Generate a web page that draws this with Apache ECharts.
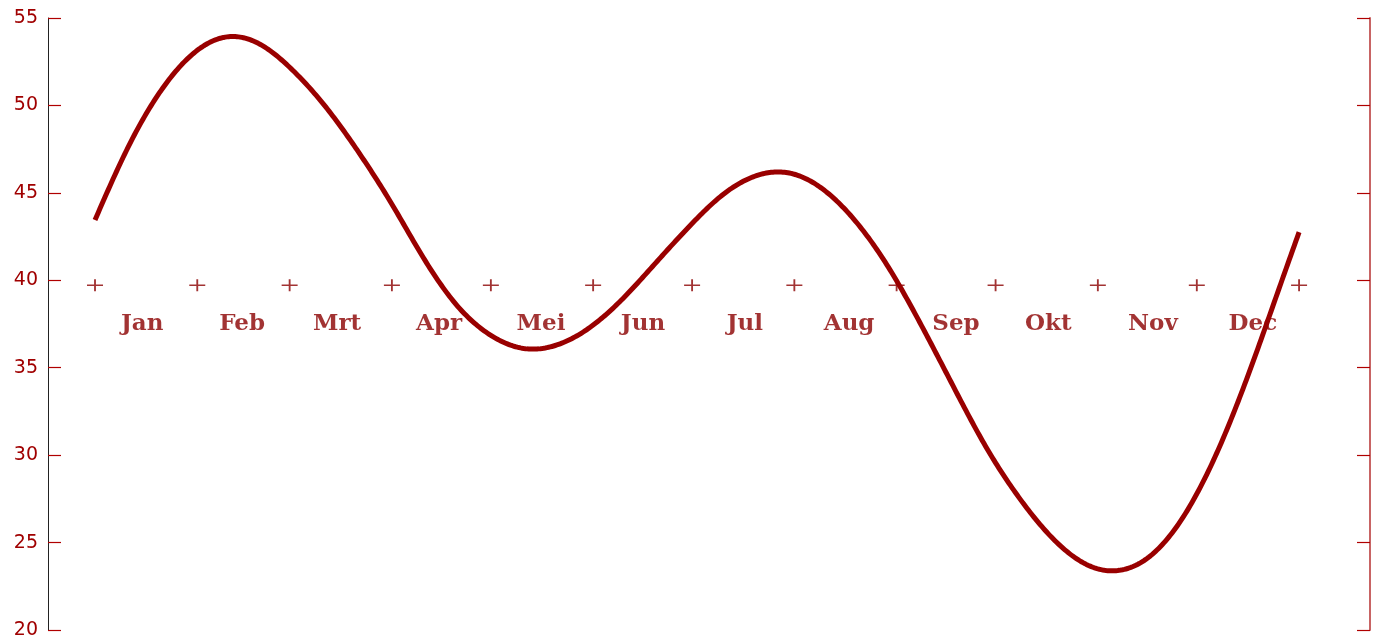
<!DOCTYPE html>
<html>
<head>
<meta charset="utf-8">
<script src="https://cdn.jsdelivr.net/npm/echarts@6/dist/echarts.min.js"></script>
<style>
html,body{margin:0;padding:0;background:#fff;}
#chart{width:1378px;height:640px;}
</style>
</head>
<body>
<div id="chart"></div>
<script>
// Month boundaries (day of year) where the "+" marks sit
const monthBoundaries = [0, 31, 59, 90, 120, 151, 181, 212, 243, 273, 304, 334, 365];
// Month labels and their centre positions (day of year)
const monthNames = ['Jan', 'Feb', 'Mrt', 'Apr', 'Mei', 'Jun', 'Jul', 'Aug', 'Sep', 'Okt', 'Nov', 'Dec'];
const monthCenters = [14.3, 44.6, 73.4, 104.3, 135.2, 166.1, 197, 228.6, 261, 289, 320.7, 351];
// Curve: day of year and value
const curveDays = [0, 10, 20, 30, 40, 50, 60, 70, 80, 90, 100, 110, 120, 130, 140, 150, 160, 170, 180, 190, 200, 210, 220, 230, 240, 250, 260, 270, 280, 290, 300, 310, 320, 330, 340, 350, 360, 365];
const curveValues = [43.45, 47.6, 50.85, 53.0, 53.92, 53.5, 52.0, 49.9, 47.3, 44.35, 41.15, 38.5, 36.85, 36.1, 36.3, 37.3, 38.95, 41.0, 43.05, 44.85, 45.95, 46.15, 45.3, 43.5, 40.9, 37.6, 34.0, 30.5, 27.6, 25.3, 23.8, 23.4, 24.25, 26.5, 30.1, 34.8, 40.1, 42.75];
// Axis settings
const yMin = 20, yMax = 55, yStep = 5;
const xAxisLevel = 40;

const red = '#990000';

// Natural cubic spline through the read points (used only for drawing the smooth stroke)
function makeSpline(xs, ys) {
  const n = xs.length;
  const h = [], alpha = [], l = [], mu = [], z = [], c = new Array(n).fill(0), b = [], d = [];
  for (let i = 0; i < n - 1; i++) h[i] = xs[i + 1] - xs[i];
  for (let i = 1; i < n - 1; i++) alpha[i] = 3 / h[i] * (ys[i + 1] - ys[i]) - 3 / h[i - 1] * (ys[i] - ys[i - 1]);
  l[0] = 1; mu[0] = 0; z[0] = 0;
  for (let i = 1; i < n - 1; i++) {
    l[i] = 2 * (xs[i + 1] - xs[i - 1]) - h[i - 1] * mu[i - 1];
    mu[i] = h[i] / l[i];
    z[i] = (alpha[i] - h[i - 1] * z[i - 1]) / l[i];
  }
  l[n - 1] = 1; z[n - 1] = 0; c[n - 1] = 0;
  for (let j = n - 2; j >= 0; j--) {
    c[j] = z[j] - mu[j] * c[j + 1];
    b[j] = (ys[j + 1] - ys[j]) / h[j] - h[j] * (c[j + 1] + 2 * c[j]) / 3;
    d[j] = (c[j + 1] - c[j]) / (3 * h[j]);
  }
  return function (x) {
    let i = 0;
    while (i < n - 2 && x > xs[i + 1]) i++;
    const dx = x - xs[i];
    return ys[i] + b[i] * dx + c[i] * dx * dx + d[i] * dx * dx * dx;
  };
}
const spline = makeSpline(curveDays, curveValues);

const chart = echarts.init(document.getElementById('chart'), null, {renderer: 'canvas'});

const curveData = curveDays.map((d, i) => [d, curveValues[i]]);
const plusData = monthBoundaries.map(d => [d, xAxisLevel]);
const labelData = monthNames.map((n, i) => ({name: n, value: [monthCenters[i], xAxisLevel]}));

const option = {
  animation: false,
  backgroundColor: '#ffffff',
  grid: {left: 48, right: 8, top: 18, bottom: 10, containLabel: false},
  xAxis: {
    type: 'value',
    min: -14.25,
    max: 386.5,
    show: false
  },
  yAxis: [
    {
      type: 'value', position: 'left', min: yMin, max: yMax, interval: yStep,
      axisLine: {show: true, onZero: false, lineStyle: {color: '#222222', width: 1}},
      axisTick: {show: true, inside: true, length: 13, lineStyle: {color: '#b00000', width: 1.2}},
      axisLabel: {show: true, color: '#a00000', fontFamily: 'DejaVu Sans', fontSize: 19, margin: 10},
      splitLine: {show: false}
    },
    {
      type: 'value', position: 'right', min: yMin, max: yMax, interval: yStep,
      axisLine: {show: true, onZero: false, lineStyle: {color: '#c86464', width: 2}},
      axisTick: {show: true, inside: true, length: 13, lineStyle: {color: '#b00000', width: 1.2}},
      axisLabel: {show: false},
      splitLine: {show: false}
    }
  ],
  series: [
    {
      type: 'scatter',
      data: plusData,
      symbol: 'path://M0,5H10M5,0V10',
      symbolSize: [16, 12],
      symbolOffset: [0, 5],
      itemStyle: {color: 'rgba(0,0,0,0)', borderColor: '#8b0000', borderWidth: 1.6},
      silent: true,
      z: 3
    },
    {
      type: 'scatter',
      data: labelData,
      symbolSize: 1,
      itemStyle: {color: 'rgba(0,0,0,0)'},
      label: {
        show: true,
        position: 'inside',
        offset: [0, 44],
        formatter: p => p.name,
        color: '#8b0000',
        fontFamily: 'DejaVu Serif',
        fontWeight: 'bold',
        fontSize: 23
      },
      silent: true,
      z: 2
    },
    {
      type: 'custom',
      data: curveData,
      clip: false,
      silent: true,
      z: 5,
      renderItem: function (params, api) {
        if (params.dataIndex !== 0) return null;
        const first = curveDays[0], last = curveDays[curveDays.length - 1];
        const pts = [];
        for (let x = first; x <= last + 1e-9; x += 0.5) pts.push(api.coord([x, spline(x)]));
        return {
          type: 'polyline',
          shape: {points: pts},
          style: {stroke: red, lineWidth: 5, fill: null, lineJoin: 'round', lineCap: 'butt'}
        };
      }
    }
  ]
};
chart.setOption(option);
</script>
</body>
</html>
